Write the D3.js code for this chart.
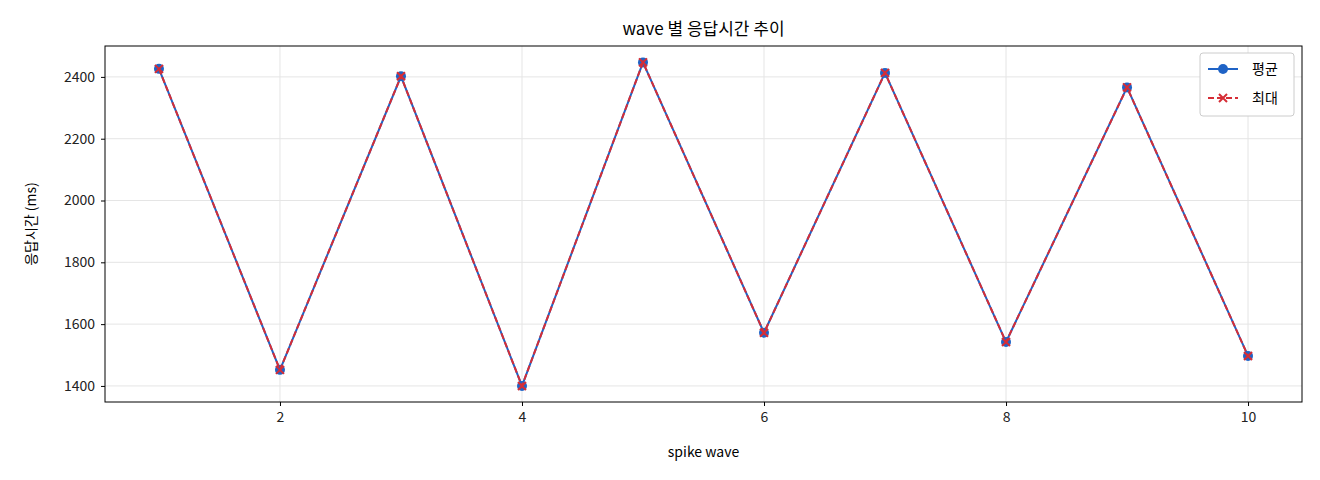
<!DOCTYPE html>
<html><head><meta charset="utf-8">
<script src="https://cdn.jsdelivr.net/npm/d3@7"></script>
<style>body{margin:0;background:#fff}text{font-family:"Noto Sans CJK KR","Noto Sans",sans-serif}</style>
</head><body><svg id="c" width="1320" height="480"></svg>
<script>
const waves=[1,2,3,4,5,6,7,8,9,10];
const avgVals=[2426,1452,2402,1400,2447,1572,2413,1542,2366,1497];
const maxVals=[2426,1452,2402,1400,2447,1572,2413,1542,2366,1497];
const xTicks=[2,4,6,8,10];
const yTicks=[1400,1600,1800,2000,2200,2400];
const L=105,R=1302,T=46,B=402;
const svg=d3.select("#c");
const x=d3.scaleLinear().domain([0.554,10.446]).range([L,R]);
const y=d3.scaleLinear().domain([1348,2500]).range([B,T]);
const g=svg.append("g");
g.selectAll(".gx").data(xTicks).join("line").attr("x1",d=>x(d)).attr("x2",d=>x(d)).attr("y1",T).attr("y2",B).attr("stroke","#e5e5e5");
g.selectAll(".gy").data(yTicks).join("line").attr("y1",d=>y(d)).attr("y2",d=>y(d)).attr("x1",L).attr("x2",R).attr("stroke","#e5e5e5");
svg.append("g").attr("transform",`translate(0,${B})`).call(d3.axisBottom(x).tickValues(xTicks).tickFormat(d3.format("d")).tickSize(4).tickPadding(6)).call(a=>{a.select(".domain").remove();a.selectAll("text").attr("font-size",14).attr("fill","#222");});
svg.append("g").attr("transform",`translate(${L},0)`).call(d3.axisLeft(y).tickValues(yTicks).tickFormat(d3.format("d")).tickSize(4).tickPadding(6)).call(a=>{a.select(".domain").remove();a.selectAll("text").attr("font-size",14).attr("fill","#222");});
svg.append("rect").attr("x",L).attr("y",T).attr("width",R-L).attr("height",B-T).attr("fill","none").attr("stroke","#000");
const line=d3.line().x((d,i)=>x(waves[i])).y(d=>y(d));
svg.append("path").attr("d",line(avgVals)).attr("fill","none").attr("stroke","#1f63c6").attr("stroke-width",2);
svg.selectAll(".p").data(avgVals).join("circle").attr("cx",(d,i)=>x(waves[i])).attr("cy",d=>y(d)).attr("r",5).attr("fill","#1f63c6");
svg.append("path").attr("d",line(maxVals)).attr("fill","none").attr("stroke","#d62d36").attr("stroke-width",2).attr("stroke-dasharray","6,3");
const cross=(s,cx,cy)=>s.append("path").attr("d",`M${cx-4},${cy-4}L${cx+4},${cy+4}M${cx-4},${cy+4}L${cx+4},${cy-4}`).attr("stroke","#d62d36").attr("stroke-width",2);
maxVals.forEach((d,i)=>cross(svg,x(waves[i]),y(d)));
svg.append("text").attr("x",(L+R)/2).attr("y",35).attr("text-anchor","middle").attr("font-size",17).text("wave 별 응답시간 추이");
svg.append("text").attr("x",(L+R)/2).attr("y",457).attr("text-anchor","middle").attr("font-size",14).text("spike wave");
svg.append("text").attr("transform",`translate(36,${(T+B)/2}) rotate(-90)`).attr("text-anchor","middle").attr("font-size",14).text("응답시간 (ms)");
const lg=svg.append("g").attr("transform","translate(1200,53)");
lg.append("rect").attr("width",94).attr("height",63).attr("rx",3).attr("fill","#fff").attr("stroke","#ccc");
lg.append("line").attr("x1",8).attr("x2",38).attr("y1",16).attr("y2",16).attr("stroke","#1f63c6").attr("stroke-width",2);
lg.append("circle").attr("cx",23).attr("cy",16).attr("r",5).attr("fill","#1f63c6");
lg.append("text").attr("x",52).attr("y",21).attr("font-size",14).text("평균");
lg.append("line").attr("x1",8).attr("x2",38).attr("y1",45).attr("y2",45).attr("stroke","#d62d36").attr("stroke-width",2).attr("stroke-dasharray","6,3");
cross(lg,23,45);
lg.append("text").attr("x",52).attr("y",50).attr("font-size",14).text("최대");
</script></body></html>
